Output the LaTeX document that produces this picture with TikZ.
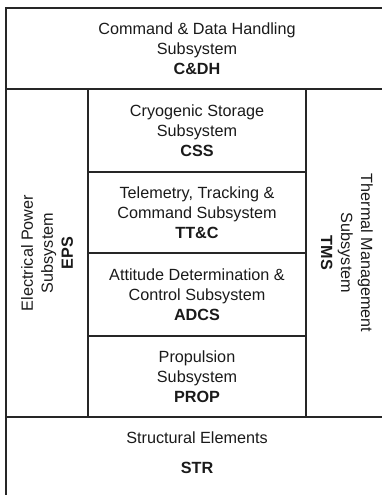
\documentclass[tikz,border=0pt]{standalone}
\usepackage{fontspec}
\setmainfont{Liberation Sans}
\definecolor{linec}{HTML}{262626}
\definecolor{textc}{HTML}{1A1A1A}
\begin{document}
\begin{tikzpicture}[x=1pt,y=-1pt,
  box/.style={draw=linec, line width=1.3pt, rectangle, inner sep=0pt, align=center,
    text=textc, font=\fontsize{16.2}{20}\selectfont},
  lbl/.style={inner sep=0pt, align=center, text=textc, font=\fontsize{16.2}{20}\selectfont}]
\useasboundingbox (0,0) rectangle (382,495);
\begin{scope}
\clip (0,0) rectangle (382,495);
\node[box, minimum width=382, minimum height=81] (cdh) at (197,48.5)
  {Command \& Data Handling\\Subsystem\\\textbf{C\&DH}};
\node[box, rotate=90, minimum width=328, minimum height=82] (eps) at (47,253)
  {Electrical Power\\Subsystem\\\textbf{EPS}};
\node[box, rotate=-90, minimum width=328, minimum height=82] (tms) at (347,253)
  {Thermal Management\\Subsystem\\\textbf{TMS}};
\node[box, minimum width=218, minimum height=83] (css) at (197,130.5)
  {Cryogenic Storage\\Subsystem\\\textbf{CSS}};
\node[box, minimum width=218, minimum height=81] (ttc) at (197,212.5)
  {Telemetry, Tracking \&\\Command Subsystem\\\textbf{TT\&C}};
\node[box, minimum width=218, minimum height=83] (adcs) at (197,294.5)
  {Attitude Determination \&\\Control Subsystem\\\textbf{ADCS}};
\node[box, minimum width=218, minimum height=81] (prop) at (197,376.5)
  {Propulsion\\Subsystem\\\textbf{PROP}};
\node[box, minimum width=382, minimum height=88] (str) at (197,461) {};
\node[lbl] (strtext) at (197,453) {Structural Elements\\[10pt]\textbf{STR}};
\end{scope}
\end{tikzpicture}
\end{document}
